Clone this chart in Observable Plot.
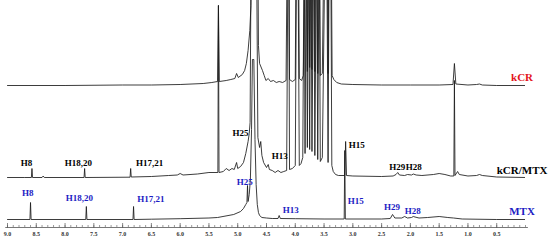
<!DOCTYPE html>
<html>
<head>
<meta charset="utf-8">
<script src="https://cdn.jsdelivr.net/npm/d3@7"></script>
<script src="https://cdn.jsdelivr.net/npm/@observablehq/plot@0.6"></script>
<style>
  html, body { margin: 0; padding: 0; background: #fff; }
  #chart svg { display: block; font-family: "Liberation Serif", "DejaVu Serif", serif; }
</style>
</head>
<body>
<div id="chart"></div>
<script>
// ---- data (ppm, intensity above each trace's baseline) ----
const seriesNames = ["kCR", "kCR/MTX", "MTX"];

const kcrTrace = [[9.0,0],[8.0,0],[7.0,0.5],[6.5,0.5],[6.0,1],[5.6,2],[5.45,3],[5.35,4],[5.335,80],[5.32,4],[5.2,5],[5.12,6],[5.05,7],[5.02,12],[4.99,8],[4.92,11],[4.88,15],[4.85,22],[4.82,35],[4.79,55],[4.77,80],[4.745,250],[4.66,250],[4.64,40],[4.62,22],[4.57,15],[4.54,10],[4.51,5],[4.47,7],[4.43,4],[4.38,5],[4.33,3],[4.28,4],[4.22,3],[4.16,5],[4.125,250],[4.115,250],[4.10,6],[4.05,4],[4.00,6],[3.975,250],[3.955,250],[3.93,7],[3.89,5],[3.86,10],[3.81,250],[3.79,14],[3.77,250],[3.75,18],[3.73,250],[3.71,16],[3.68,250],[3.66,14],[3.63,250],[3.61,12],[3.585,250],[3.565,10],[3.53,12],[3.48,250],[3.455,250],[3.43,12],[3.41,250],[3.385,250],[3.36,10],[3.33,6],[3.28,3],[3.2,1.5],[3.0,1],[2.5,0.5],[2.0,0.5],[1.5,0.5],[1.26,1],[1.235,22],[1.21,1.5],[1.0,0.5],[0.85,1],[0.8,1.5],[0.75,0.5],[0.5,0],[0.0,0]];

const mixTrace = [[9.0,0],[8.7,0],[8.585,0],[8.575,9],[8.565,0],[8.4,0],[8.38,1.5],[8.36,0],[7.67,0],[7.66,9],[7.65,0],[6.87,0.3],[6.86,9],[6.85,0.5],[6.5,1],[6.2,2],[6.05,2.5],[6.0,4],[5.95,2.5],[5.7,3.5],[5.5,5],[5.345,5],[5.335,172],[5.325,5],[5.25,6],[5.2,9],[5.15,7],[5.10,9],[5.06,8],[5.02,15],[5.0,9],[4.95,11],[4.9,15],[4.86,24],[4.82,36],[4.80,44],[4.785,55],[4.765,250],[4.675,250],[4.65,40],[4.62,30],[4.60,36],[4.58,22],[4.55,15],[4.50,10],[4.47,13],[4.45,8],[4.40,7],[4.35,5],[4.30,7],[4.25,5],[4.20,6],[4.15,7],[4.125,250],[4.115,250],[4.10,8],[4.05,9],[4.0,12],[3.975,250],[3.955,250],[3.93,12],[3.90,14],[3.87,20],[3.845,250],[3.83,24],[3.81,250],[3.79,30],[3.77,250],[3.75,28],[3.73,250],[3.71,26],[3.68,250],[3.66,22],[3.63,250],[3.61,18],[3.585,250],[3.565,16],[3.53,20],[3.48,250],[3.455,250],[3.43,15],[3.41,250],[3.385,250],[3.365,12],[3.34,6],[3.30,3],[3.25,2],[3.14,2],[3.125,36],[3.11,2],[3.0,1.5],[2.5,1],[2.3,1.5],[2.25,3],[2.22,5],[2.19,2.5],[2.1,2],[2.05,3],[1.98,2.5],[1.95,3.5],[1.90,2.5],[1.8,2],[1.6,3],[1.5,4],[1.4,3],[1.3,1.5],[1.245,1.5],[1.235,97],[1.225,2],[1.18,6],[1.15,3],[1.0,1.5],[0.85,2],[0.8,3],[0.75,2],[0.5,0.5],[0.0,0]];

const mtxTrace = [[9.0,0],[8.61,0],[8.60,17],[8.59,0],[7.64,0],[7.63,13],[7.62,0],[6.82,0],[6.81,13],[6.80,0],[6.5,0.3],[6.0,0.8],[5.5,1.5],[5.35,2],[5.07,5],[4.95,8],[4.9,11],[4.86,15],[4.84,17],[4.83,34],[4.82,18],[4.80,25],[4.78,40],[4.76,90],[4.745,160],[4.72,160],[4.70,80],[4.68,35],[4.66,15],[4.64,7],[4.62,4],[4.58,2],[4.5,1.5],[4.4,1],[4.30,1],[4.28,4],[4.26,1],[4.0,0.8],[3.5,0.5],[3.15,0.5],[3.14,69],[3.13,0.5],[2.5,0.5],[2.35,1],[2.31,5],[2.27,1.5],[2.15,1.5],[2.10,3],[2.05,1.5],[1.98,2],[1.95,3],[1.92,2.5],[1.85,1.5],[1.7,2],[1.5,3],[1.35,2],[1.25,1.5],[1.1,0.5],[0.5,0],[0.0,0]];

// peak assignments: [label, ppm, height above baseline]
const mixPeakLabels = [["H8",8.67,14],["H18,20",7.77,14],["H17,21",6.53,14],["H25",4.95,44],["H13",4.27,21],["H15",2.93,32],["H29",2.23,10],["H28",1.94,10]];
const mtxPeakLabels = [["H8",8.65,26],["H18,20",7.75,21],["H17,21",6.51,20],["H25",4.88,37],["H13",4.08,9],["H15",2.95,18],["H29",2.32,12],["H28",1.96,8]];

const tickValues = [9.0,8.5,8.0,7.5,7.0,6.5,6.0,5.5,5.0,4.5,4.0,3.5,3.0,2.5,2.0,1.5,1.0,0.5];
const tickLabels = ["9.0","8.5","8.0","7.5","7.0","6.5","6.0","5.5","5.0","4.5","4.0","3.5","3.0","2.5","2.0","1.5","1.0","0.5"];

// ---- layout ----
const baseline = {"kCR": 142, "kCR/MTX": 50, "MTX": 8};
const seriesColor = {"kCR": "#e3141b", "kCR/MTX": "#000000", "MTX": "#1c1cc4"};
const traces = {"kCR": kcrTrace, "kCR/MTX": mixTrace, "MTX": mtxTrace};

const rows = seriesNames.flatMap(s => traces[s].map(([ppm, v]) => ({series: s, ppm, y: baseline[s] + v})));
const mixLab = mixPeakLabels.map(([t, ppm, h]) => ({t, ppm, y: baseline["kCR/MTX"] + h}));
const mtxLab = mtxPeakLabels.map(([t, ppm, h]) => ({t, ppm, y: baseline["MTX"] + h}));
const nameLab = seriesNames.map(s => ({t: s, ppm: 0.06, y: baseline[s] + (s === "kCR/MTX" ? 7 : 8)}));
const minorTicks = d3.range(0, 91).map(i => i / 10);

const chart = Plot.plot({
  width: 550,
  height: 241,
  marginLeft: 7,
  marginRight: 25,
  marginTop: 0,
  marginBottom: 14,
  style: {fontFamily: "Liberation Serif, serif", background: "#fff"},
  x: {domain: [9, 0], axis: null, label: null},
  y: {domain: [0, 227], axis: null},
  marks: [
    Plot.line(rows, {x: "ppm", y: "y", z: "series", stroke: "#1a1a1a", strokeWidth: 0.85, clip: true}),
    Plot.ruleY([0], {x1: 9.03, x2: -0.05, stroke: "#555", strokeWidth: 0.8}),
    Plot.ruleX(minorTicks, {x: d => d, y1: 0, y2: 2, stroke: "#555", strokeWidth: 0.6}),
    Plot.ruleX(tickValues, {x: d => d, y1: -1, y2: 4, stroke: "#555", strokeWidth: 0.7}),
    Plot.axisX({ticks: tickValues, tickFormat: (d, i) => tickLabels[i], tickSize: 0, tickPadding: 4, fontSize: 6, fontWeight: "bold", fill: "#333", label: null}),
    Plot.text(mixLab, {x: "ppm", y: "y", text: "t", fill: "#000", fontSize: 9, fontWeight: "bold"}),
    Plot.text(mtxLab, {x: "ppm", y: "y", text: "t", fill: "#1c1cc4", fontSize: 9, fontWeight: "bold"}),
    Plot.text(nameLab.filter(d => d.t === "kCR"), {x: "ppm", y: "y", text: "t", fill: "#e3141b", fontSize: 11, fontWeight: "bold"}),
    Plot.text(nameLab.filter(d => d.t === "kCR/MTX"), {x: "ppm", y: "y", text: "t", fill: "#000", fontSize: 11, fontWeight: "bold"}),
    Plot.text(nameLab.filter(d => d.t === "MTX"), {x: "ppm", y: "y", text: "t", fill: "#1c1cc4", fontSize: 11, fontWeight: "bold"})
  ]
});
document.getElementById("chart").appendChild(chart);
</script>
</body>
</html>
